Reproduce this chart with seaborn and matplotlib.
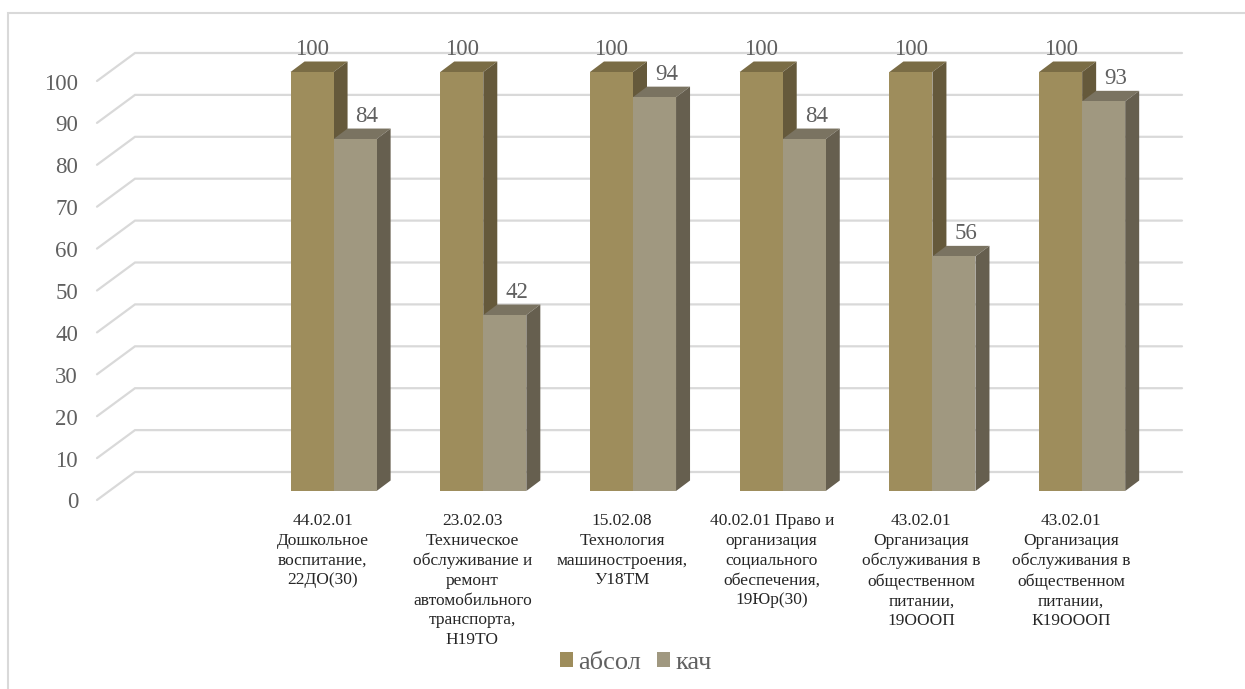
import matplotlib
matplotlib.use('Agg')
import matplotlib.pyplot as plt
import pandas as pd
import seaborn as sns
from matplotlib.patches import Polygon, Rectangle
from matplotlib.transforms import Affine2D, IdentityTransform

# first slot of the axis is empty in the original chart
categories = [' ',
              '44.02.01\nДошкольное\nвоспитание,\n22ДО(30)',
              '23.02.03\nТехническое\nобслуживание и\nремонт\nавтомобильного\nтранспорта,\nН19ТО',
              '15.02.08\nТехнология\nмашиностроения,\nУ18ТМ',
              '40.02.01 Право и\nорганизация\nсоциального\nобеспечения,\n19Юр(30)',
              '43.02.01\nОрганизация\nобслуживания в\nобщественном\nпитании,\n19ОООП',
              '43.02.01\nОрганизация\nобслуживания в\nобщественном\nпитании,\nК19ОООП']
absol = [None, 100, 100, 100, 100, 100, 100]
kach = [None, 84, 42, 94, 84, 56, 93]
yticks = [0, 10, 20, 30, 40, 50, 60, 70, 80, 90, 100]
series = ['абсол', 'кач']

front_colors = ['#9E8D5C', '#A09880']
top_colors = ['#7A6C45', '#7A7361']
side_colors = ['#65593B', '#665F4F']
grid_color = '#D9D9D9'
text_color = '#606060'
W, H = 1245, 689

sns.set_theme(style='white')
plt.rcParams['font.family'] = ['Liberation Serif', 'DejaVu Serif']

df = pd.DataFrame({'cat': categories * 2,
                   'val': absol + kach,
                   'ser': [series[0]] * 7 + [series[1]] * 7})

fig = plt.figure(figsize=(W / 100, H / 100), dpi=100)
ax = fig.add_axes([109 / W, (H - 491) / H, 1048 / W, 419 / H])
ax.patch.set_alpha(0)

sns.barplot(data=df, x='cat', y='val', hue='ser', order=categories, hue_order=series,
            palette=front_colors, width=0.575, gap=0, saturation=1, errorbar=None,
            ax=ax, zorder=3, edgecolor='none')
ax.set_xlim(-0.5, 6.5)
ax.set_ylim(0, 100)
ax.set_xlabel('')
ax.set_ylabel('')
sns.despine(ax=ax, left=True, bottom=True)


def shifted(dx, dy):
    return ax.transData + Affine2D().translate(dx, dy)


# floor + wall gridlines
for v in yticks:
    p0 = shifted(-12, -9).transform((-0.5, v))
    p1 = shifted(26, 19).transform((-0.5, v))
    p2 = shifted(25, 19).transform((6.5, v))
    ax.plot([p0[0], p1[0], p2[0]], [p0[1], p1[1], p2[1]], color=grid_color, lw=1.6,
            transform=IdentityTransform(), zorder=1, clip_on=False, solid_joinstyle='miter')

# fake 3d depth on every bar
depth_x, depth_y = 14, 10.5
bars = [b for b in ax.patches if b.get_height() > 0]
for i, b in enumerate(bars):
    s = 0 if i < 6 else 1
    (x0, y0), (x1, y1) = ax.transData.transform([(b.get_x(), 0),
                                                 (b.get_x() + b.get_width(), b.get_height())])
    top = [(x0, y1), (x1, y1), (x1 + depth_x, y1 + depth_y), (x0 + depth_x, y1 + depth_y)]
    side = [(x1, y0), (x1 + depth_x, y0 + depth_y), (x1 + depth_x, y1 + depth_y), (x1, y1)]
    z = 2.5 if s == 0 else 3.5
    ax.add_patch(Polygon(top, fc=top_colors[s], ec='none', transform=IdentityTransform(), zorder=z, clip_on=False))
    ax.add_patch(Polygon(side, fc=side_colors[s], ec='none', transform=IdentityTransform(), zorder=z, clip_on=False))
    b.set_zorder(z + 0.1)
    b.set_clip_on(False)
    ax.annotate(f'{b.get_height():.0f}', (b.get_x() + b.get_width() / 2, b.get_height()),
                xytext=(0 if s == 0 else 12, 12), textcoords='offset pixels', ha='center', va='bottom',
                fontsize=16.5, color=text_color, zorder=6, annotation_clip=False)

ax.set_yticks(yticks)
ax.tick_params(axis='y', length=0, pad=0, labelsize=16.5, labelcolor=text_color)
for lab in ax.get_yticklabels():
    lab.set_transform(lab.get_transform() + Affine2D().translate(-31, -9.5))
ax.tick_params(axis='x', length=0, pad=16, labelsize=12.5, labelcolor='#262626')
for lab in ax.get_xticklabels():
    lab.set_linespacing(1.31)
    lab.set_transform(lab.get_transform() + Affine2D().translate(-11, 0))

leg = ax.get_legend()
leg.remove()
handles = [Rectangle((0, 0), 1, 1, fc=c, ec='none') for c in front_colors]
fig.legend(handles, series, loc='center', bbox_to_anchor=(636 / W, (H - 663) / H), ncol=2,
           frameon=False, fontsize=19, labelcolor=text_color, handlelength=0.49, handleheight=0.5,
           handletextpad=0.2, columnspacing=0.62, borderpad=0, borderaxespad=0)

# chart frame, runs off the picture on the right and at the bottom
fig.add_artist(Rectangle((7.5 / W, -5 / H), 1300 / W, (H - 13 + 5) / H, fill=False,
                         ec=grid_color, lw=1.5, transform=fig.transFigure))

fig.savefig('out.png', dpi=100, facecolor='white')
